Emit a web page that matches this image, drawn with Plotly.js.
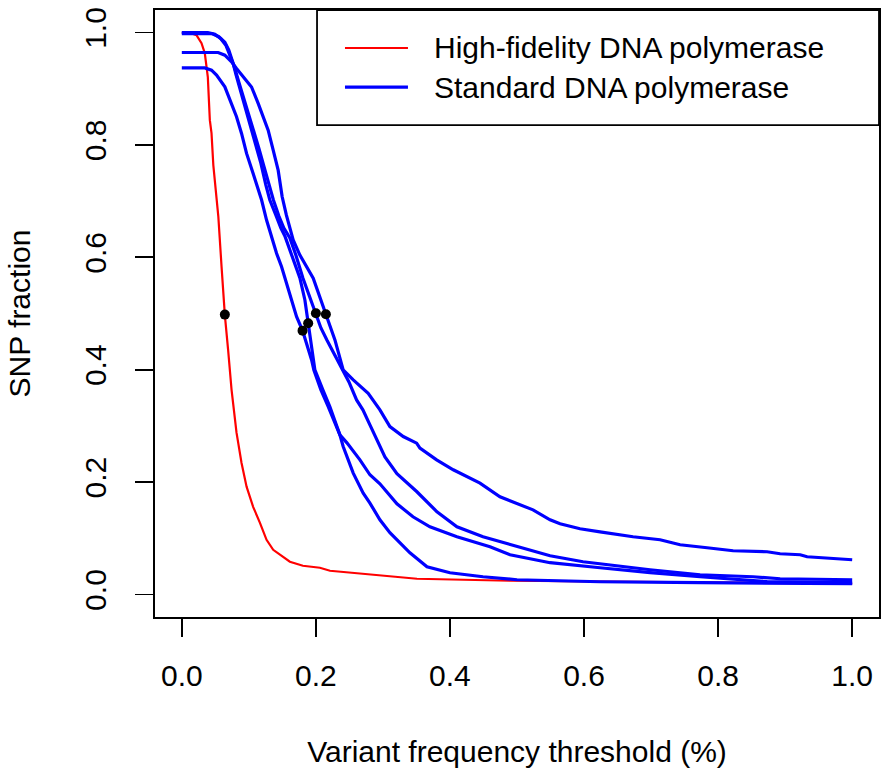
<!DOCTYPE html>
<html>
<head>
<meta charset="utf-8">
<script src="https://cdn.plot.ly/plotly-3.0.1.min.js"></script>
<style>html,body{margin:0;padding:0;background:#fff;}#chart{width:892px;height:782px;}</style>
</head>
<body>
<div id="chart"></div>
<script>
// High-fidelity DNA polymerase (red)
const hifiX = [0, 0.012, 0.0219, 0.0294, 0.0343, 0.0369, 0.0388, 0.0418, 0.0443, 0.047, 0.0518, 0.0545, 0.0593, 0.0642, 0.0691, 0.0742, 0.0816, 0.0891, 0.0966, 0.1064, 0.1164, 0.1264, 0.1363, 0.1612, 0.1806, 0.206, 0.221, 0.2507, 0.321, 0.3507, 0.4896, 0.624, 0.773, 1.0];
const hifiY = [1.0, 0.9996, 0.9952, 0.981, 0.963, 0.933, 0.9205, 0.844, 0.821, 0.764, 0.702, 0.672, 0.583, 0.497, 0.435, 0.364, 0.288, 0.234, 0.192, 0.156, 0.128, 0.0974, 0.0796, 0.0583, 0.0512, 0.0477, 0.0423, 0.0388, 0.0316, 0.0281, 0.0245, 0.0228, 0.021, 0.0192];

// Standard DNA polymerase, sample 1 (starts 0.937)
const std1X = [0, 0.0343, 0.0443, 0.0518, 0.0642, 0.0716, 0.0816, 0.0891, 0.0966, 0.1064, 0.119, 0.1264, 0.1339, 0.1413, 0.1488, 0.1563, 0.1637, 0.1712, 0.1801, 0.1861, 0.1936, 0.197, 0.2075, 0.2179, 0.2299, 0.2358, 0.2407, 0.2557, 0.2706, 0.2806, 0.2955, 0.3104, 0.3403, 0.3657, 0.4, 0.4493, 0.5, 0.6239, 0.7731, 1.0];
const std1Y = [0.937, 0.937, 0.933, 0.9241, 0.9033, 0.8796, 0.85, 0.8204, 0.7849, 0.7493, 0.7019, 0.6663, 0.6366, 0.6071, 0.5833, 0.5538, 0.5241, 0.4944, 0.4695, 0.4471, 0.4174, 0.3996, 0.3641, 0.3356, 0.3019, 0.2841, 0.2633, 0.216, 0.1804, 0.1627, 0.133, 0.1099, 0.0743, 0.0494, 0.0387, 0.0316, 0.0263, 0.0227, 0.021, 0.0192];

// Standard DNA polymerase, sample 2 (starts 1.0)
const std2X = [0, 0.0388, 0.0493, 0.0582, 0.0657, 0.0716, 0.0769, 0.0806, 0.0866, 0.094, 0.1015, 0.1104, 0.1179, 0.1254, 0.1313, 0.1403, 0.1478, 0.1537, 0.1642, 0.1761, 0.1836, 0.1885, 0.1925, 0.1985, 0.2104, 0.2209, 0.2358, 0.2463, 0.2657, 0.2806, 0.2955, 0.3209, 0.3448, 0.3701, 0.4104, 0.4597, 0.4896, 0.5493, 0.6239, 0.6985, 0.7731, 0.8731, 1.0];
const std2Y = [1.0, 0.9996, 0.997, 0.989, 0.9774, 0.9614, 0.9436, 0.9258, 0.901, 0.8708, 0.8405, 0.8032, 0.7676, 0.7285, 0.7019, 0.6752, 0.652, 0.6379, 0.6023, 0.5632, 0.5241, 0.485, 0.4566, 0.3996, 0.3641, 0.3339, 0.2841, 0.2699, 0.2396, 0.213, 0.197, 0.1614, 0.1383, 0.1205, 0.1028, 0.085, 0.0708, 0.0566, 0.0476, 0.0388, 0.0316, 0.0228, 0.021];

// Standard DNA polymerase, sample 3 (starts 1.0)
const std3X = [0, 0.0448, 0.0552, 0.0642, 0.0701, 0.0754, 0.0799, 0.0851, 0.091, 0.0985, 0.106, 0.1149, 0.1224, 0.1299, 0.1366, 0.1448, 0.1522, 0.1612, 0.1701, 0.1806, 0.1896, 0.2, 0.2075, 0.2164, 0.2284, 0.2403, 0.2493, 0.2607, 0.2701, 0.2806, 0.291, 0.303, 0.3209, 0.3507, 0.3806, 0.4104, 0.4493, 0.5, 0.5493, 0.5985, 0.6985, 0.7731, 0.8522, 0.8925, 1.0];
const std3Y = [0.998, 0.998, 0.9925, 0.9828, 0.9685, 0.9508, 0.933, 0.9116, 0.8885, 0.8619, 0.8316, 0.7943, 0.7623, 0.7303, 0.7019, 0.6734, 0.652, 0.6343, 0.6041, 0.5632, 0.533, 0.5004, 0.4743, 0.453, 0.4263, 0.3996, 0.3783, 0.3463, 0.3285, 0.3019, 0.2752, 0.245, 0.2148, 0.1828, 0.1472, 0.1205, 0.1028, 0.085, 0.069, 0.0583, 0.0441, 0.0352, 0.0316, 0.0281, 0.0263];

// Standard DNA polymerase, sample 4 (starts 0.966)
const std4X = [0, 0.0542, 0.0642, 0.0742, 0.0816, 0.094, 0.104, 0.1139, 0.1213, 0.1288, 0.1363, 0.1437, 0.1497, 0.156, 0.1661, 0.1761, 0.196, 0.2109, 0.2149, 0.2258, 0.2284, 0.2407, 0.2557, 0.278, 0.2955, 0.3104, 0.3303, 0.3503, 0.3552, 0.3801, 0.4049, 0.4448, 0.4746, 0.5239, 0.5493, 0.5642, 0.594, 0.6239, 0.6731, 0.7134, 0.7433, 0.7836, 0.8224, 0.8731, 0.8925, 0.9224, 0.9328, 1.0];
const std4Y = [0.9644, 0.9644, 0.9596, 0.9477, 0.936, 0.918, 0.903, 0.8738, 0.85, 0.8263, 0.7908, 0.755, 0.7077, 0.675, 0.6308, 0.604, 0.5627, 0.5152, 0.4987, 0.4619, 0.453, 0.3996, 0.382, 0.358, 0.3285, 0.2988, 0.2811, 0.2693, 0.2604, 0.2396, 0.2219, 0.1982, 0.1739, 0.1507, 0.133, 0.1259, 0.117, 0.1116, 0.1028, 0.0974, 0.0885, 0.0832, 0.0779, 0.0761, 0.0725, 0.0708, 0.0672, 0.0619];

// Half-maximum points (black dots)
const dotX = [0.0642, 0.1801, 0.1885, 0.2, 0.2149];
const dotY = [0.498, 0.4695, 0.4827, 0.5004, 0.4987];

const tickVals = [0, 0.2, 0.4, 0.6, 0.8, 1.0];
const tickText = ['0.0', '0.2', '0.4', '0.6', '0.8', '1.0'];

const legendNames = ['High-fidelity DNA polymerase', 'Standard DNA polymerase'];
const xTitle = 'Variant frequency threshold (%)';
const yTitle = 'SNP fraction';

const RED = '#ff0000', BLUE = '#0000ff';
const FONT = 'Liberation Sans, Arial, Helvetica, sans-serif';

const traces = [];
traces.push({
  x: hifiX, y: hifiY, type: 'scatter', mode: 'lines',
  line: {color: RED, width: 2.2},
  name: legendNames[0], showlegend: false
});
const blueSets = [[std1X, std1Y], [std2X, std2Y], [std3X, std3Y], [std4X, std4Y]];
blueSets.forEach((s) => {
  traces.push({
    x: s[0], y: s[1], type: 'scatter', mode: 'lines',
    line: {color: BLUE, width: 3.2},
    name: legendNames[1], showlegend: false
  });
});
traces.push({
  x: dotX, y: dotY, type: 'scatter', mode: 'markers',
  marker: {color: '#000', size: 10}, showlegend: false
});

const axisCommon = {
  showgrid: false, zeroline: false, showline: true, mirror: true,
  linecolor: '#000', linewidth: 1.8,
  ticks: 'outside', ticklen: 18, tickwidth: 1.8, tickcolor: '#000',
  tickvals: tickVals, ticktext: tickText,
  tickfont: {family: FONT, size: 30, color: '#000'}
};

// legend box drawn in paper coordinates
const legendColors = [RED, BLUE];
const legendWidths = [2.2, 3.2];
const legRowY = [0.9374, 0.8731];
const shapes = [{
  type: 'rect', xref: 'paper', yref: 'paper',
  x0: 0.2238, x1: 1.0, y0: 0.8105, y1: 1.0,
  line: {color: '#000', width: 1.8}, fillcolor: '#fff', layer: 'above'
}];
const annotations = [];
legendNames.forEach((nm, i) => {
  shapes.push({
    type: 'line', xref: 'paper', yref: 'paper',
    x0: 0.2624, x1: 0.3494, y0: legRowY[i], y1: legRowY[i],
    line: {color: legendColors[i], width: legendWidths[i]}, layer: 'above'
  });
  annotations.push({
    xref: 'paper', yref: 'paper', x: 0.3826, y: legRowY[i],
    xanchor: 'left', yanchor: 'middle', showarrow: false,
    text: nm, font: {family: FONT, size: 30, color: '#000'}
  });
});

const layout = {
  width: 892, height: 782,
  margin: {l: 155, r: 13, t: 10, b: 165},
  paper_bgcolor: '#fff', plot_bgcolor: '#fff',
  font: {family: FONT, size: 30, color: '#000'},
  showlegend: false,
  xaxis: Object.assign({}, axisCommon, {
    range: [-0.04, 1.04], ticklabelstandoff: 13,
    title: {text: xTitle, font: {family: FONT, size: 30, color: '#000'}, standoff: 50}
  }),
  yaxis: Object.assign({}, axisCommon, {
    range: [-0.04, 1.04], tickangle: -90, ticklabelstandoff: 17,
    title: {text: yTitle, font: {family: FONT, size: 30, color: '#000'}, standoff: 40}
  }),
  shapes: shapes,
  annotations: annotations
};

Plotly.newPlot('chart', traces, layout, {staticPlot: true, displayModeBar: false});
</script>
</body>
</html>
